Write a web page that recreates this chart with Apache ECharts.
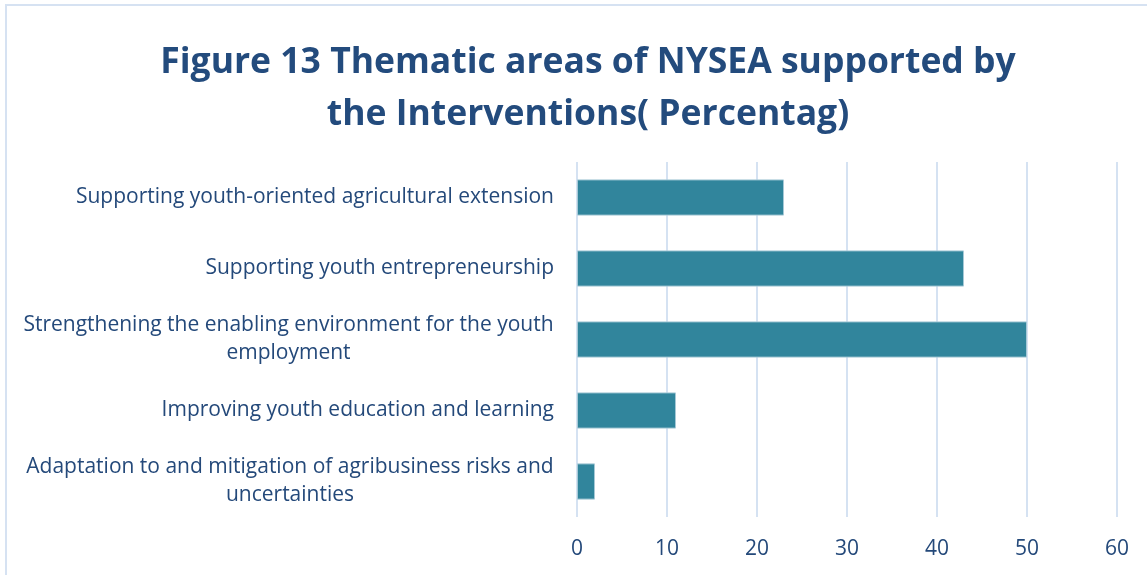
<!DOCTYPE html>
<html>
<head>
<meta charset="utf-8">
<script src="https://cdn.jsdelivr.net/npm/echarts@6/dist/echarts.min.js"></script>
<style>
  html, body { margin: 0; padding: 0; background: #fff; }
  #chart { width: 1147px; height: 575px; }
</style>
</head>
<body>
<div id="chart"></div>
<script>
// Thematic areas and share of interventions (%)
const categories = [
  'Supporting youth-oriented agricultural extension',
  'Supporting youth entrepreneurship',
  'Strengthening the enabling environment for the youth\nemployment',
  'Improving youth education and learning',
  'Adaptation to and mitigation of agribusiness risks and\nuncertainties'
];
const values = [23, 43, 50, 11, 2];
const axisTicks = [0, 10, 20, 30, 40, 50, 60];

const FONT = '"Open Sans", "Noto Sans", sans-serif';
const LABEL_SIZE = 21;
const LABEL_LINE = 28;
const TEXT_COLOR = '#24497a';

// Measure text so that multi-line labels are centred within their own block
const ctx = document.createElement('canvas').getContext('2d');
ctx.font = LABEL_SIZE + 'px ' + FONT;
function blockWidth(v) {
  return Math.ceil(Math.max(...v.split('\n').map(l => ctx.measureText(l).width)));
}
function labelFormatter(v) {
  const lines = v.split('\n');
  if (lines.length === 1) return v;
  const w = blockWidth(v);
  return lines.map(l => '{c' + w + '|' + l + '}').join('\n');
}
const rich = {};
categories.forEach(c => {
  if (c.indexOf('\n') >= 0) {
    const w = blockWidth(c);
    rich['c' + w] = { width: w, align: 'center', fontSize: LABEL_SIZE, fontFamily: FONT, color: TEXT_COLOR, lineHeight: LABEL_LINE };
  }
});

const chart = echarts.init(document.getElementById('chart'), null, { renderer: 'canvas' });
chart.setOption({
  animation: false,
  backgroundColor: '#ffffff',
  title: {
    text: 'Figure 13 Thematic areas of NYSEA supported by\nthe Interventions( Percentag)',
    left: 588,
    top: 37,
    padding: 0,
    textAlign: 'center',
    textStyle: {
      fontFamily: FONT,
      fontWeight: 'bold',
      fontSize: 35.5,
      lineHeight: 52,
      color: '#234b7d'
    }
  },
  graphic: [{
    type: 'rect',
    shape: { x: 6, y: 5, width: 1200, height: 620 },
    style: { fill: 'none', stroke: '#d6e2f2', lineWidth: 2 },
    silent: true,
    z: -1
  }],
  grid: { left: 577, right: 30, top: 162, bottom: 58, containLabel: false },
  xAxis: {
    type: 'value',
    min: axisTicks[0],
    max: axisTicks[axisTicks.length - 1],
    interval: axisTicks[1] - axisTicks[0],
    axisLine: { show: false },
    axisTick: { show: false },
    splitLine: { show: true, lineStyle: { color: '#d5e2f2', width: 2 } },
    axisLabel: { fontFamily: FONT, fontSize: 21, color: TEXT_COLOR, margin: 22 }
  },
  yAxis: {
    type: 'category',
    inverse: true,
    data: categories,
    axisLine: { show: false },
    axisTick: { show: false },
    axisLabel: {
      fontFamily: FONT,
      fontSize: LABEL_SIZE,
      color: TEXT_COLOR,
      margin: 23,
      lineHeight: LABEL_LINE,
      formatter: labelFormatter,
      rich: rich
    }
  },
  series: [{
    type: 'bar',
    data: values,
    barCategoryGap: '49%',
    itemStyle: { color: '#31859c', borderColor: '#a6c9d6', borderWidth: 1 }
  }]
});
</script>
</body>
</html>
